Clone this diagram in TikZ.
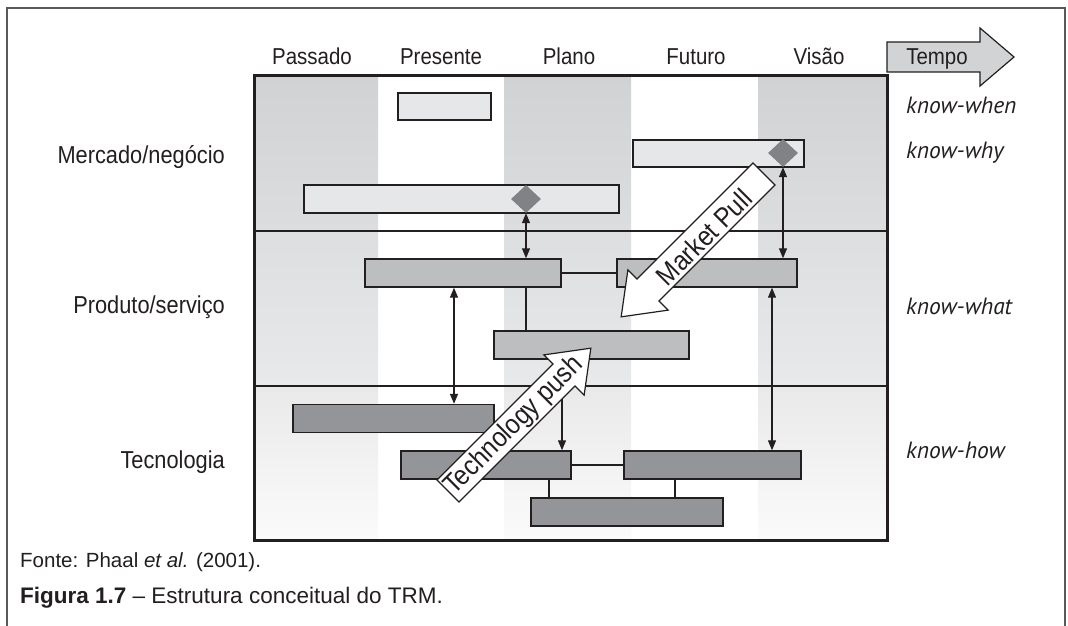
\documentclass[tikz,border=0pt]{standalone}
\usepackage{fontspec}
\setmainfont{Liberation Sans}[FakeStretch=0.89]
\newfontfamily\capfont{Liberation Sans}
\newfontfamily\kfont{PT Sans}
\usetikzlibrary{arrows.meta,shapes.geometric}
\definecolor{ink}{HTML}{231F20}
\definecolor{framec}{HTML}{58595B}
\definecolor{barA}{HTML}{E6E7E8}
\definecolor{barB}{HTML}{BCBEC0}
\definecolor{barC}{HTML}{939598}
\definecolor{dia}{HTML}{808285}
\definecolor{tempoc}{HTML}{D1D3D4}
\definecolor{ra}{HTML}{D1D2D4}
\definecolor{rb}{HTML}{DCDDDF}
\definecolor{rc}{HTML}{DDDEE0}
\definecolor{rd}{HTML}{E8E9EA}
\definecolor{re}{HTML}{E9E9EA}
\definecolor{rf}{HTML}{FBFBFB}
\begin{document}
\begin{tikzpicture}[x=1pt,y=-1pt,
  hdr/.style={font=\fontsize{23}{26}\selectfont, text=ink, inner sep=0pt, anchor=base},
  lft/.style={font=\fontsize{24.5}{27}\selectfont, text=ink, inner sep=0pt, anchor=base east},
  kn/.style={font=\kfont\itshape\fontsize{23.5}{26}\selectfont, text=ink, inner sep=0pt, anchor=base west},
  bar/.style={draw=ink, line width=1.4pt, inner sep=0pt, minimum height=27pt},
  bA/.style={bar, fill=barA},
  bB/.style={bar, fill=barB},
  bC/.style={bar, fill=barC},
  dm/.style={diamond, fill=dia, inner sep=0pt, minimum width=30pt, minimum height=28pt},
  conn/.style={draw=ink, line width=1.2pt},
  arr/.style={conn, -{Triangle[length=10pt,width=8pt]}},
  darr/.style={conn, {Triangle[length=10pt,width=8pt]}-{Triangle[length=10pt,width=8pt]}},
  blk/.style={draw=ink, line width=1.2pt, fill=white, line join=miter},
  bigt/.style={font=\fontsize{27.5}{30}\selectfont, text=ink, inner sep=0pt, rotate=45},
  foot/.style={font=\capfont\fontsize{20.5}{24}\selectfont, text=ink, inner sep=0pt, anchor=base west}
]
\useasboundingbox (0,0) rectangle (1068,626);
\fill[white] (0,0) rectangle (1068,626);
% outer frame
\draw[framec, line width=1.5pt] (7,626) -- (7,8) -- (1065,8) -- (1065,626);

% background bands
\foreach \xa/\xb in {254/378, 504/631, 758/887}{
  \shade[top color=ra, bottom color=rb] (\xa,76) rectangle (\xb,231);
  \shade[top color=rc, bottom color=rd] (\xa,231) rectangle (\xb,386);
  \shade[top color=re, bottom color=rf] (\xa,386) rectangle (\xb,540);
}
\draw[ink, line width=2.8pt] (254,231) -- (887,231);
\draw[ink, line width=2.8pt] (254,386) -- (887,386);
\draw[ink, line width=3pt] (254,76) rectangle (887,540);

% header
\node[hdr] (h1) at (312,64) {Passado};
\node[hdr] (h2) at (441,64) {Presente};
\node[hdr] (h3) at (569,64) {Plano};
\node[hdr] (h4) at (696,64) {Futuro};
\node[hdr] (h5) at (819,64) {Visão};
\draw[draw=ink, line width=1.2pt, fill=tempoc, line join=miter]
  (887,42) -- (980,42) -- (980,28) -- (1014,57) -- (980,86) -- (980,72) -- (887,72) -- cycle;
\node[hdr] (tempo) at (937,65) {Tempo};

% left labels
\node[lft] (l1) at (225,163) {Mercado/negócio};
\node[lft] (l2) at (225,313) {Produto/serviço};
\node[lft] (l3) at (225,468) {Tecnologia};

% right labels
\node[kn] (k1) at (906,113) {know-when};
\node[kn] (k2) at (906,158) {know-why};
\node[kn] (k3) at (906,314) {know-what};
\node[kn] (k4) at (906,458) {know-how};

% market row
\node[bA, minimum width=93pt] (m1) at (444.5,106.5) {};
\node[bA, minimum width=171pt] (m2) at (718.5,153.5) {};
\node[bA, minimum width=315pt, minimum height=28pt] (m3) at (461.5,199) {};
\node[dm] (d1) at (526,199) {};
\node[dm] (d2) at (783,153) {};

% product row
\node[bB, minimum width=196pt, minimum height=28pt] (p1) at (463,273) {};
\node[bB, minimum width=180pt, minimum height=28pt] (p2) at (707,273) {};
\node[bB, minimum width=195pt, minimum height=28pt] (p3) at (591.5,345) {};

% technology row
\node[bC, minimum width=201pt, minimum height=28pt] (t1) at (393.5,418.5) {};
\node[bC, minimum width=170pt, minimum height=28pt] (t2) at (486,465) {};
\node[bC, minimum width=177pt, minimum height=28pt] (t3) at (712.5,465) {};
\node[bC, minimum width=192pt, minimum height=28pt] (t4) at (627,512) {};

% connectors
\coordinate (xa) at (454,0);
\coordinate (xb) at (772,0);
\coordinate (xc) at (562,0);
\coordinate (x1) at (549,0);
\coordinate (x2) at (675,0);
\draw[conn] (p1.east) -- (p2.west);
\draw[conn] (p1.south -| d1) -- (p3.north -| d1);
\draw[conn] (t2.east) -- (t3.west);
\draw[conn] (t2.south -| x1) -- (t4.north -| x1);
\draw[conn] (t3.south -| x2) -- (t4.north -| x2);
\draw[darr] (d1.south) -- (p1.north -| d1);
\draw[darr] (d2.south) -- (p2.north -| d2);
\draw[darr] (p1.south -| xa) -- (t1.north -| xa);
\draw[darr] (p2.south -| xb) -- (t3.north -| xb);
\draw[arr] (p3.south -| xc) -- (t2.north -| xc);

% block arrows
\begin{scope}[shift={(764,174)}, rotate=225]
  \draw[blk] (0,15.5) -- (164,15.5) -- (164,28.5) -- (202,0) -- (164,-28.5) -- (164,-15.5) -- (0,-15.5) -- cycle;
\end{scope}
\begin{scope}[shift={(448,491)}, rotate=45]
  \draw[blk] (0,15.5) -- (164,15.5) -- (164,28.5) -- (202,0) -- (164,-28.5) -- (164,-15.5) -- (0,-15.5) -- cycle;
\end{scope}
\node[bigt] (mp) at (704,237) {Market Pull};
\node[bigt] (tp) at (514,426) {Technology push};

% footer
\node[foot] (src) at (20,567) {Fonte: Phaal \textit{et al.} (2001).};
\node[foot, font=\capfont\fontsize{22.5}{26}\selectfont] (cap) at (20,603) {\textbf{Figura 1.7} – Estrutura conceitual do TRM.};
\end{tikzpicture}
\end{document}
